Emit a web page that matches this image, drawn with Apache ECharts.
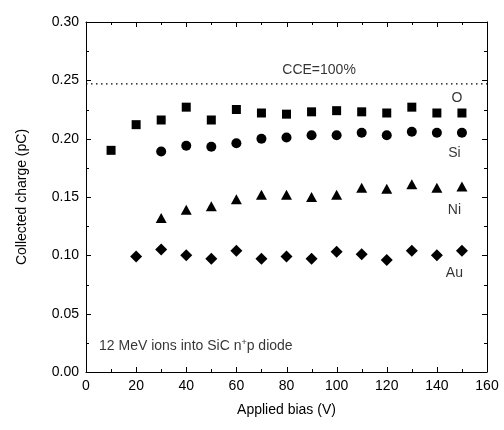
<!DOCTYPE html>
<html><head><meta charset="utf-8">
<script src="https://cdn.jsdelivr.net/npm/echarts@6/dist/echarts.min.js"></script>
<style>html,body{margin:0;padding:0;background:#fff}#c{width:504px;height:430px}</style>
</head><body><div id="c"></div>
<script>
const biasO = [10,20,30,40,50,60,70,80,90,100,110,120,130,140,150];
const chargeO = [0.190,0.212,0.216,0.227,0.216,0.225,0.222,0.221,0.223,0.224,0.223,0.222,0.227,0.222,0.222];
const biasSi = [30,40,50,60,70,80,90,100,110,120,130,140,150];
const chargeSi = [0.189,0.194,0.193,0.196,0.200,0.201,0.203,0.203,0.205,0.203,0.206,0.205,0.205];
const biasNi = [30,40,50,60,70,80,90,100,110,120,130,140,150];
const chargeNi = [0.132,0.139,0.142,0.148,0.152,0.152,0.150,0.152,0.158,0.157,0.161,0.158,0.159];
const biasAu = [20,30,40,50,60,70,80,90,100,110,120,130,140,150];
const chargeAu = [0.099,0.105,0.100,0.097,0.104,0.097,0.099,0.097,0.103,0.101,0.096,0.104,0.100,0.104];
const cceLevel = 0.247;
const cceSpan = [0,160];
const labelNames = ['O','Si','Ni','Au'];
const labelX = [148,147,147,147];
const labelY = [0.235,0.188,0.139,0.085];
const cceText = {x:93,y:0.259,text:'CCE=100%'};
const noteText = {x:5,y:0.022};
const xTicks = {min:0,max:160,interval:20};
const yTicks = {min:0,max:0.30,interval:0.05};

const font = 'Liberation Sans, Arial, sans-serif';
const pair = (xs, ys) => xs.map((x,i)=>[x, ys[i]]);
const chart = echarts.init(document.getElementById('c'));
function ax(extra){
  return Object.assign({
    type:'value',
    axisLine:{show:true,onZero:false,lineStyle:{color:'#000',width:1}},
    axisTick:{show:false},
    minorTick:{show:false},
    splitLine:{show:false}
  }, extra);
}
const textLabel = {show:true,position:'inside',formatter:p=>p.name,fontFamily:font,fontSize:14,color:'#000',textBorderWidth:0};
const hidden = {color:'transparent'};
chart.setOption({
  animation:false,
  backgroundColor:'#fff',
  grid:{left:86,right:17,top:22,bottom:58},
  xAxis:[
    ax({position:'bottom',min:xTicks.min,max:xTicks.max,interval:xTicks.interval,
      name:'Applied bias (V)',nameLocation:'middle',nameGap:31,
      nameTextStyle:{fontFamily:font,fontSize:14,color:'#000'},
      axisLabel:{fontFamily:font,fontSize:14,color:'#000',margin:7}}),
    ax({position:'top',min:xTicks.min,max:xTicks.max,interval:xTicks.interval,axisLabel:{show:false}})
  ],
  yAxis:[
    ax({position:'left',min:yTicks.min,max:yTicks.max,interval:yTicks.interval,
      name:'Collected charge (pC)',nameLocation:'middle',nameGap:57,
      nameTextStyle:{fontFamily:font,fontSize:14,color:'#000'},
      axisLabel:{fontFamily:font,fontSize:14,color:'#000',margin:7,formatter:v=>v.toFixed(2)}}),
    ax({position:'right',min:yTicks.min,max:yTicks.max,interval:yTicks.interval,axisLabel:{show:false}})
  ],
  series:[
    {type:'line',name:'CCE',data:cceSpan.map(x=>[x,cceLevel]),symbol:'none',silent:true,
      lineStyle:{type:[1.5,3.5],color:'#000',width:1.2}},
    {type:'scatter',name:'O',data:pair(biasO,chargeO),symbol:'rect',symbolSize:9,itemStyle:{color:'#000',opacity:1}},
    {type:'scatter',name:'Si',data:pair(biasSi,chargeSi),symbol:'circle',symbolSize:10,itemStyle:{color:'#000',opacity:1}},
    {type:'scatter',name:'Ni',data:pair(biasNi,chargeNi),symbol:'triangle',symbolSize:[11,10],itemStyle:{color:'#000',opacity:1}},
    {type:'scatter',name:'Au',data:pair(biasAu,chargeAu),symbol:'diamond',symbolSize:[12,12],itemStyle:{color:'#000',opacity:1}},
    {type:'scatter',name:'labels',symbolSize:1,silent:true,itemStyle:hidden,
      data:labelNames.map((n,i)=>({value:[labelX[i],labelY[i]],name:n})),
      label:textLabel},
    {type:'scatter',name:'cce',symbolSize:1,silent:true,itemStyle:hidden,
      data:[{value:[cceText.x,cceText.y],name:cceText.text}],
      label:textLabel},
    {type:'scatter',name:'note',symbolSize:1,silent:true,itemStyle:hidden,
      data:[{value:[noteText.x,noteText.y],name:'note'}],
      label:{show:true,position:'right',distance:0,
        formatter:'{a|12 MeV ions into SiC n}{s|+}{a|p diode}',
        rich:{a:{fontFamily:font,fontSize:14,color:'#000'},s:{fontFamily:font,fontSize:9,color:'#000',verticalAlign:'top',padding:[0,0,8,0]}}}}
  ]
});
// Tick marks placed through the chart's own scales (major + one minor between)
(function(){
  const els = [];
  const st = {stroke:'#000',lineWidth:1};
  const yBot = chart.convertToPixel({yAxisIndex:0}, yTicks.min);
  const yTop = chart.convertToPixel({yAxisIndex:0}, yTicks.max);
  const xL = chart.convertToPixel({xAxisIndex:0}, xTicks.min);
  const xR = chart.convertToPixel({xAxisIndex:0}, xTicks.max);
  const nx = Math.round((xTicks.max - xTicks.min) / (xTicks.interval/2));
  for (let i=1;i<nx;i++){
    const v = xTicks.min + i*xTicks.interval/2;
    const px = Math.round(chart.convertToPixel({xAxisIndex:0}, v)) + 0.5;
    const len = (i%2===0) ? 5 : 3;
    els.push({type:'line',silent:true,z:100,shape:{x1:px,y1:yBot,x2:px,y2:yBot-len},style:st});
    els.push({type:'line',silent:true,z:100,shape:{x1:px,y1:yTop,x2:px,y2:yTop+len},style:st});
  }
  const ny = Math.round((yTicks.max - yTicks.min) / (yTicks.interval/2));
  for (let i=1;i<ny;i++){
    const v = yTicks.min + i*yTicks.interval/2;
    const py = Math.round(chart.convertToPixel({yAxisIndex:0}, v)) + 0.5;
    const len = (i%2===0) ? 5 : 3;
    els.push({type:'line',silent:true,z:100,shape:{x1:xL,y1:py,x2:xL+len,y2:py},style:st});
    els.push({type:'line',silent:true,z:100,shape:{x1:xR,y1:py,x2:xR-len,y2:py},style:st});
  }
  chart.setOption({graphic:els});
})();
</script></body></html>
